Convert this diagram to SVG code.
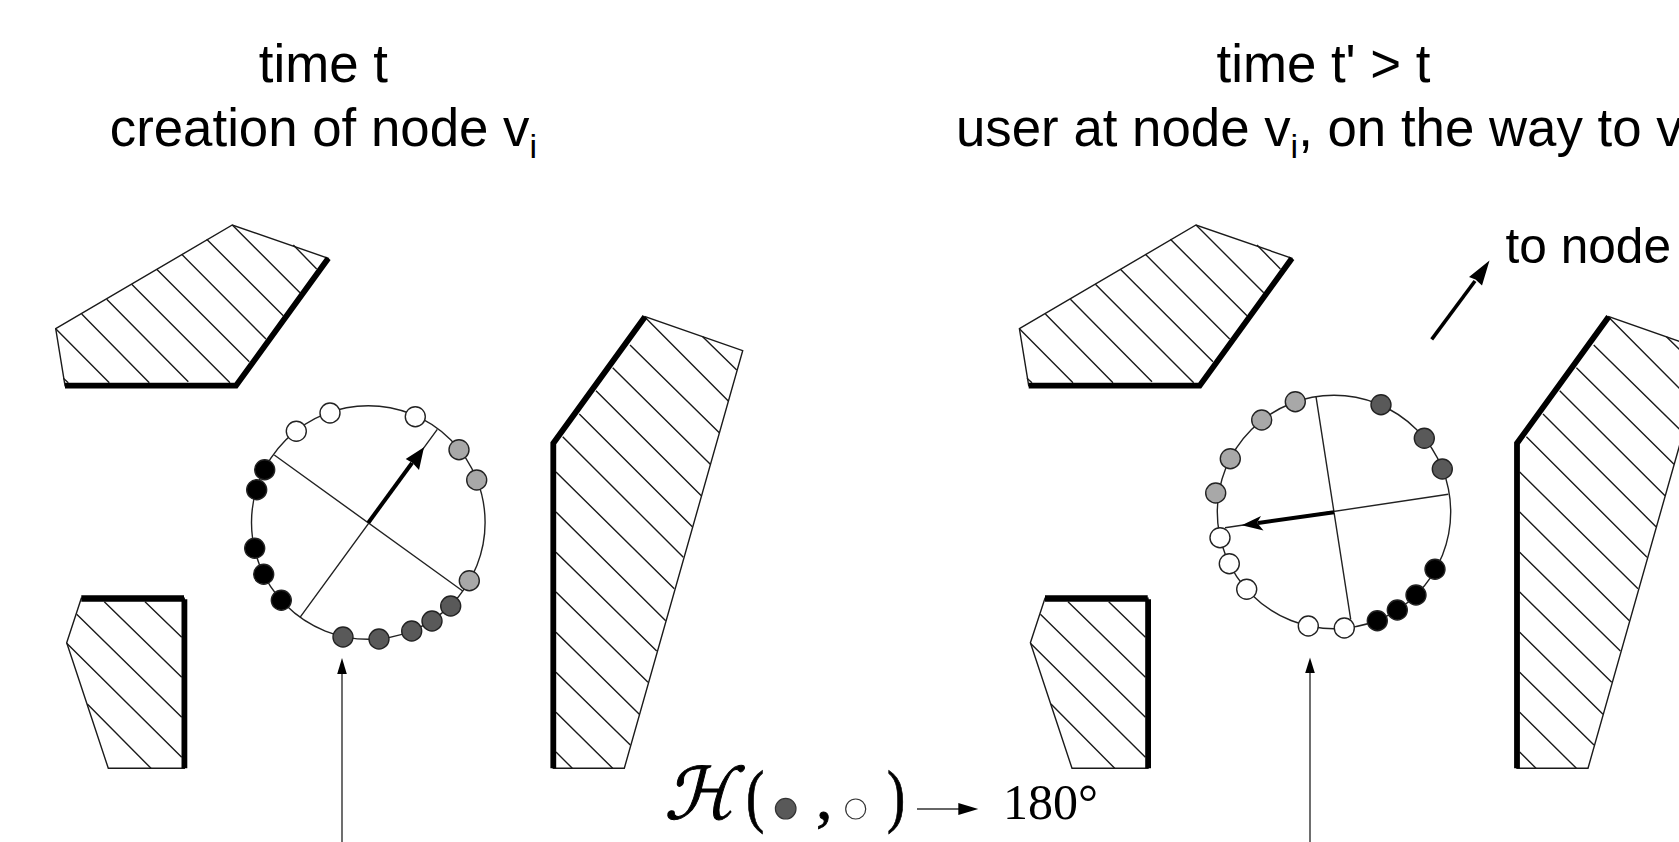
<svg xmlns="http://www.w3.org/2000/svg" width="1679" height="842" viewBox="0 0 1679 842">
<style>
.bg{fill:#fff}
.ob{fill:#fff;stroke:#1a1a1a;stroke-width:1.4;stroke-linejoin:miter}
.h{stroke:#1a1a1a;stroke-width:1.4;fill:none}
.w{fill:none;stroke:#000;stroke-width:5.8;stroke-linejoin:miter}
.c{fill:none;stroke:#222;stroke-width:1.4}
.d{stroke:#222;stroke-width:1.4}
.dw{fill:#fff}.dg{fill:#a8a8a8}.dd{fill:#595959}.db{fill:#000}
.s{font-family:"Liberation Sans",Arial,sans-serif;font-size:52.8px;fill:#000}
.sub{font-size:34px}
.m{font-family:"Liberation Serif","Times New Roman",serif;fill:#000}
</style>
<defs>
<g id="obstacles">
<polygon class="ob" points="65,385.7 55.7,328.7 232.3,225 328.3,258.3 236,385.7"/>
<path class="h" d="M55.7 328.7L109.3 382.7M81.7 314L149.3 382.7M106.7 299.3L188.3 381.7M131.7 284.3L230 382.7M156.7 269.3L249.3 361.7M181.7 254.3L266 339M206.7 239.3L283.3 315.7M232.3 225L300 292.7M293.3 245L316.7 269M63.3 378.3L68.3 382.7"/>
<path class="w" d="M65 385.7H236L328.3 258.3"/>
<polygon class="ob" points="81.3,598.3 184.3,598.3 184.3,768.3 108.3,768.3 66.7,642.7"/>
<path class="h" d="M145 601.7L181.7 637.3M104.3 601.7L181.7 677.3M76.7 614.3L181.7 717.3M66.7 643.3L181.7 757.3M87.3 704L151 768.3"/>
<path class="w" d="M81.3 598.5H184" style="stroke-width:6.3"/>
<path class="w" d="M184.4 599.3V768.3"/>
<polygon class="ob" points="553.3,768.3 553.3,443.3 645,316.7 742.7,350.7 624.3,768.3"/>
<path class="h" d="M645 317.3L728.3 401M630 345L719.3 432.7M612.7 367.7L710.3 464.3M596 390.7L701.3 495.7M579.3 414L692.3 526.7M562.7 436.7L683.3 557.3M556 472L674.3 588.7M556 512L665.7 620.7M556 552.3L656.7 651M556 592L648 682.3M556 632.3L639.3 714.3M556 672.3L630.3 745M556 712.3L612.7 768.3M556 752L572.3 768.3M702.7 336.7L736.7 370"/>
<path class="w" d="M553.3 768.3V443.3L645 316.7"/>
</g>
</defs>
<rect class="bg" width="1679" height="842"/>
<g id="title-left" text-anchor="middle">
<text class="s" x="323.4" y="82.3">time t</text>
<text class="s" x="323.4" y="145.7">creation of node v<tspan class="sub" dy="12">i</tspan></text>
</g>
<text id="title-right-1" class="s" text-anchor="middle" x="1323.5" y="82.3">time t' &gt; t</text>
<text id="title-right-2" class="s" x="956" y="145.7">user at node v<tspan class="sub" dy="12">i</tspan><tspan dy="-12">, on the way to v</tspan></text>
<text id="to-node" class="s" x="1505.5" y="263.3" style="font-size:49.6px">to node</text>
<use id="scene-left" href="#obstacles"/>
<use id="scene-right" href="#obstacles" transform="translate(963.7 0)"/>
<g id="pointer-left">
<path d="M342 842V672" stroke="#555" stroke-width="1.7" fill="none"/>
<polygon points="342,658 337.2,674 346.8,674" fill="#000"/>
</g>
<g id="pointer-right">
<path d="M1310 842V671" stroke="#555" stroke-width="1.7" fill="none"/>
<polygon points="1310,657.5 1305.2,673 1314.8,673" fill="#000"/>
</g>
<g id="circle-left">
<circle class="c" cx="368.3" cy="522.5" r="116.8"/>
<path d="M274.3 455L462.7 591M300 617.3L437.3 429.3" stroke="#222" stroke-width="1.4" fill="none"/>
<path d="M368.3 522.7L412 463" stroke="#000" stroke-width="4" fill="none"/>
<polygon points="424,447.3 419,470 412.7,463 405.7,459" fill="#000"/>
<g class="d">
<circle class="dw" cx="296.3" cy="431.3" r="10"/><circle class="dw" cx="330" cy="413" r="10"/><circle class="dw" cx="415.3" cy="416.7" r="10"/>
<circle class="dg" cx="459" cy="449.7" r="10"/><circle class="dg" cx="476.7" cy="480" r="10"/><circle class="dg" cx="469.3" cy="580.7" r="10"/>
<circle class="dd" cx="450.7" cy="606" r="10"/><circle class="dd" cx="432" cy="621" r="10"/><circle class="dd" cx="411.7" cy="631" r="10"/><circle class="dd" cx="379" cy="639" r="10"/><circle class="dd" cx="343" cy="637" r="10"/>
<circle class="db" cx="264.7" cy="469.7" r="10"/><circle class="db" cx="256.7" cy="489.7" r="10"/><circle class="db" cx="254.7" cy="548.3" r="10"/><circle class="db" cx="263.7" cy="574.3" r="10"/><circle class="db" cx="281.3" cy="600.3" r="10"/>
</g>
</g>
<g id="circle-right">
<circle class="c" cx="1334" cy="512" r="116.7"/>
<path d="M1316 396.7L1350.7 619.3M1448.3 494.3L1225 527.7" stroke="#222" stroke-width="1.4" fill="none"/>
<path d="M1334 512.3L1258 523" stroke="#000" stroke-width="4" fill="none"/>
<polygon points="1241.7,525.3 1261,516 1257,522.7 1263.5,530.5" fill="#000"/>
<g class="d">
<circle class="dg" cx="1295.3" cy="401.7" r="10"/><circle class="dg" cx="1261.7" cy="420" r="10"/><circle class="dg" cx="1230.3" cy="458.7" r="10"/><circle class="dg" cx="1215.7" cy="493" r="10"/>
<circle class="dd" cx="1381" cy="404.7" r="10"/><circle class="dd" cx="1424.3" cy="438.3" r="10"/><circle class="dd" cx="1442.3" cy="469" r="10"/>
<circle class="db" cx="1435" cy="569.3" r="10"/><circle class="db" cx="1416" cy="595" r="10"/><circle class="db" cx="1397.3" cy="610" r="10"/><circle class="db" cx="1377.3" cy="620.7" r="10"/>
<circle class="dw" cx="1220" cy="537.7" r="10"/><circle class="dw" cx="1229.3" cy="563.7" r="10"/><circle class="dw" cx="1246.7" cy="589.3" r="10"/><circle class="dw" cx="1308.3" cy="626" r="10"/><circle class="dw" cx="1344.3" cy="628" r="10"/>
</g>
</g>
<g id="to-node-arrow">
<path d="M1431.7 339.4L1475 281" stroke="#000" stroke-width="3.6" fill="none"/>
<polygon points="1489.5,260.4 1482,285.5 1475.5,279.5 1469,277" fill="#000"/>
</g>
<g id="formula">
<text transform="translate(664 819) skewX(-14)" font-size="72" stroke="#000" stroke-width="1" style="font-family:'DejaVu Serif','DejaVu Sans',serif">ℋ</text>
<text class="m" transform="translate(746 819) scale(.78 1)" font-size="70" stroke="#000" stroke-width=".8">(</text>
<circle cx="785.7" cy="808.7" r="10.3" fill="#595959" stroke="#333" stroke-width="1.2"/>
<text class="m" x="816" y="819" font-size="66" stroke="#000" stroke-width=".8">,</text>
<circle cx="855.7" cy="809" r="10" fill="#fff" stroke="#333" stroke-width="1.2"/>
<text class="m" transform="translate(887 819) scale(.78 1)" font-size="70" stroke="#000" stroke-width=".8">)</text>
<path d="M917 809H960" stroke="#333" stroke-width="1.3" fill="none"/>
<polygon points="978.3,809 958.3,803 958.3,815" fill="#000"/>
<text class="m" x="1003" y="818.5" font-size="50">180°</text>
</g>
</svg>
